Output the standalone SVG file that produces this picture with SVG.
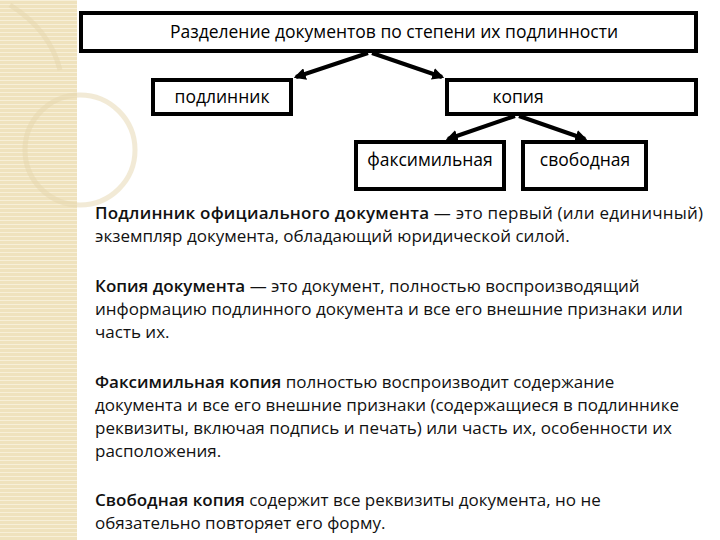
<svg xmlns="http://www.w3.org/2000/svg" width="720" height="540" viewBox="0 0 720 540">
<style>
.b{fill:#fff;stroke:#000;stroke-width:4}
.t{font-family:"Open Sans","Liberation Sans",sans-serif;font-size:17.5px;fill:#000}
.p{font-family:"Open Sans","Liberation Sans",sans-serif;font-size:17px;fill:#111}
.bd{font-weight:600}
.c{stroke:#000;stroke-width:4;fill:none;marker-end:url(#a)}
</style>
<defs>
<pattern id="st" width="4" height="4" patternUnits="userSpaceOnUse"><rect width="4" height="4" fill="#efe2bd"/><rect width="4" height="1" fill="#f7efd8"/></pattern>
<marker id="a" viewBox="0 0 10 10" refX="8" refY="5" markerWidth="3" markerHeight="3" orient="auto"><path d="M0,0L10,5L0,10z" fill="#000"/></marker>
</defs>
<rect width="720" height="540" fill="#fff"/>
<rect x="0" y="0" width="77" height="540" fill="url(#st)"/>
<g fill="none" stroke="#e6d7ae" stroke-width="5" opacity="0.5">
<circle cx="80" cy="150" r="55"/>
<path d="M10,5 Q50,30 60,70"/>
</g>
<g id="connectors">
<line class="c" x1="368" y1="53" x2="296" y2="77"/>
<line class="c" x1="372" y1="53" x2="442" y2="77"/>
<line class="c" x1="515" y1="116" x2="448" y2="139"/>
<line class="c" x1="519" y1="116" x2="585" y2="139"/>
</g>
<g id="root"><rect class="b" x="81" y="13" width="615" height="38"/><text class="t" x="394" y="38" text-anchor="middle">Разделение документов по степени их подлинности</text></g>
<g id="original"><rect class="b" x="153" y="80" width="138" height="34"/><text class="t" x="222" y="103" text-anchor="middle">подлинник</text></g>
<g id="copy"><rect class="b" x="447" y="80" width="249" height="34"/><text class="t" x="518" y="103" text-anchor="middle">копия</text></g>
<g id="facs"><rect class="b" x="356" y="142" width="148" height="47"/><text class="t" x="430" y="166" text-anchor="middle">факсимильная</text></g>
<g id="free"><rect class="b" x="523" y="142" width="123" height="47"/><text class="t" x="585" y="166" text-anchor="middle">свободная</text></g>
<g class="p">
<text x="95" y="219" textLength="608"><tspan class="bd">Подлинник официального документа</tspan> — это первый (или единичный)</text>
<text x="95" y="242">экземпляр документа, обладающий юридической силой.</text>
<text x="95" y="292"><tspan class="bd">Копия документа</tspan> — это документ, полностью воспроизводящий</text>
<text x="95" y="315">информацию подлинного документа и все его внешние признаки или</text>
<text x="95" y="338">часть их.</text>
<text x="95" y="388"><tspan class="bd">Факсимильная копия</tspan> полностью воспроизводит содержание</text>
<text x="95" y="411">документа и все его внешние признаки (содержащиеся в подлиннике</text>
<text x="95" y="434">реквизиты, включая подпись и печать) или часть их, особенности их</text>
<text x="95" y="457">расположения.</text>
<text x="95" y="506"><tspan class="bd">Свободная копия</tspan> содержит все реквизиты документа, но не</text>
<text x="95" y="529">обязательно повторяет его форму.</text>
</g>
</svg>
